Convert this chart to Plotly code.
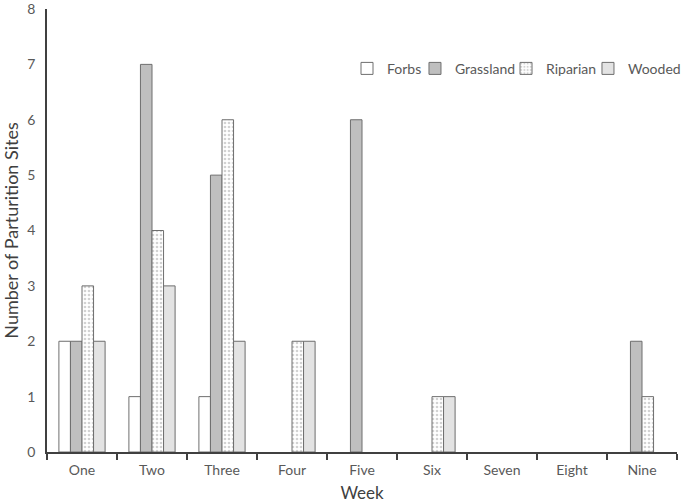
import plotly.graph_objects as go

weeks = ["One", "Two", "Three", "Four", "Five", "Six", "Seven", "Eight", "Nine"]
forbs = [2, 1, 1, 0, 0, 0, 0, 0, 0]
grassland = [2, 7, 5, 0, 6, 0, 0, 0, 2]
riparian = [3, 4, 6, 2, 0, 1, 0, 0, 1]
wooded = [2, 3, 2, 2, 0, 1, 0, 0, 0]

FONT = "Lato, Open Sans, sans-serif"
EDGE = "#6e6e6e"
TXT = "#595959"


def nz(vals):
    # zero-height bars are not drawn in the original
    return [v if v else None for v in vals]


fig = go.Figure()

fig.add_trace(go.Bar(
    x=weeks, y=nz(forbs), name="Forbs", legend="legend",
    marker=dict(color="white", line=dict(color=EDGE, width=1)),
))
fig.add_trace(go.Bar(
    x=weeks, y=nz(grassland), name="Grassland", legend="legend2",
    marker=dict(color="#bfbfbf", line=dict(color=EDGE, width=1)),
))
fig.add_trace(go.Bar(
    x=weeks, y=nz(riparian), name="Riparian", legend="legend3",
    marker=dict(
        color="white", line=dict(color=EDGE, width=1),
        pattern=dict(shape=".", fgcolor="#a6a6a6", bgcolor="white", size=4, solidity=0.35),
    ),
))
fig.add_trace(go.Bar(
    x=weeks, y=nz(wooded), name="Wooded", legend="legend4",
    marker=dict(color="#e3e3e3", line=dict(color=EDGE, width=1)),
))

# one small legend per series so the entries sit where the original has them
leg = dict(orientation="h", xanchor="left", y=0.865, yanchor="middle",
           font=dict(size=14, color=TXT), itemwidth=30, bgcolor="rgba(0,0,0,0)")

fig.update_layout(
    width=685, height=504,
    margin=dict(l=47, r=8, t=9, b=52, autoexpand=False),
    paper_bgcolor="white", plot_bgcolor="white",
    barmode="group", bargap=0.34, bargroupgap=0,
    font=dict(family=FONT, size=14, color=TXT),
    legend=dict(leg, x=0.4762),
    legend2=dict(leg, x=0.5841),
    legend3=dict(leg, x=0.7286),
    legend4=dict(leg, x=0.8587),
    showlegend=True,
)

fig.update_xaxes(
    automargin=False,
    showline=True, linecolor="#404040", linewidth=1.5,
    ticks="outside", ticklen=6, tickcolor="#404040", tickwidth=1.5,
    tickson="boundaries", showgrid=False, ticklabelstandoff=4,
    title=dict(text="Week", font=dict(size=17, color="#404040"), standoff=11),
    tickfont=dict(size=14, color=TXT),
)
fig.update_yaxes(
    automargin=False,
    range=[0, 8], dtick=1, showline=True, linecolor="#404040", linewidth=1.5,
    ticks="", showgrid=False, zeroline=False, ticklabelstandoff=7,
    ticklabeloverflow="allow",
    title=dict(text="Number of Parturition Sites", font=dict(size=18, color="#404040"), standoff=7),
    tickfont=dict(size=14, color=TXT),
)

fig.write_html("out.html", config={"displayModeBar": False},
               post_script="document.body.style.margin='0';")
